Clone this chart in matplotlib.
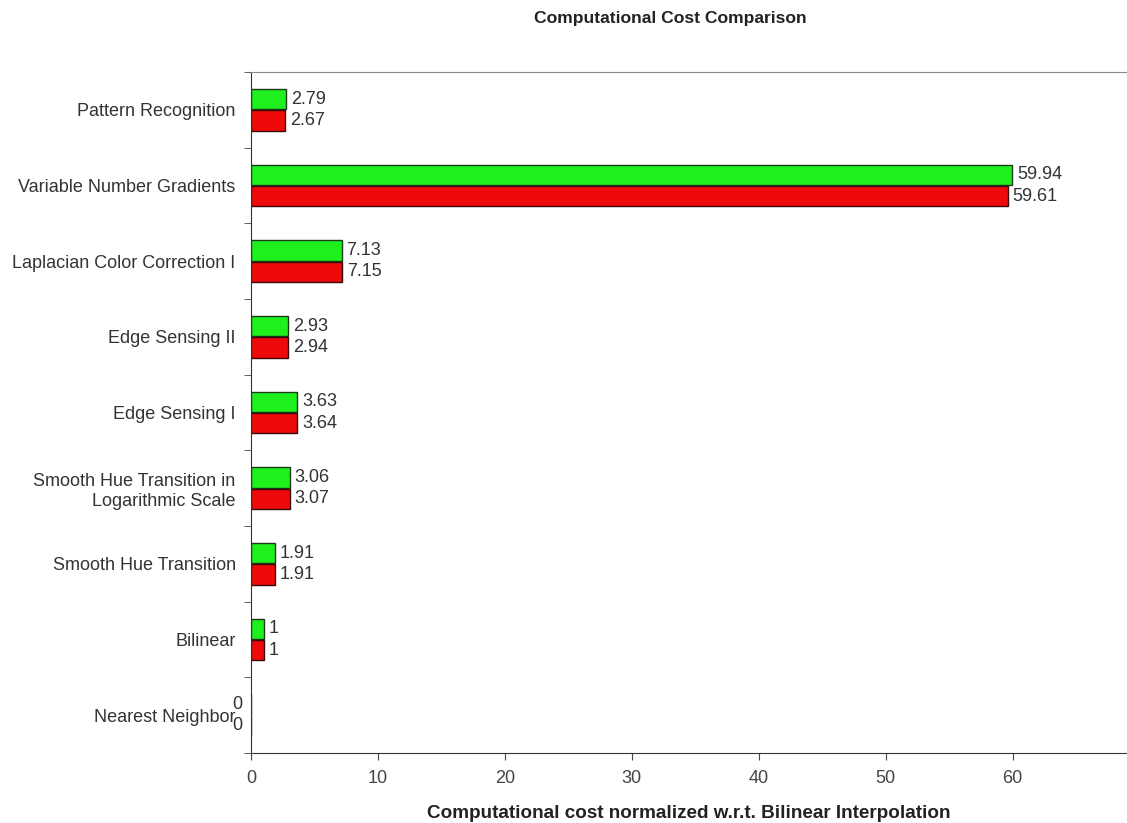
import numpy as np
import matplotlib.pyplot as plt

plt.rcParams['font.family'] = ['Liberation Sans', 'DejaVu Sans']

methods = [
    "Pattern Recognition",
    "Variable Number Gradients",
    "Laplacian Color Correction I",
    "Edge Sensing II",
    "Edge Sensing I",
    "Smooth Hue Transition in\nLogarithmic Scale",
    "Smooth Hue Transition",
    "Bilinear",
    "Nearest Neighbor",
]
cost_green = [2.79, 59.94, 7.13, 2.93, 3.63, 3.06, 1.91, 1, 0]
cost_red = [2.67, 59.61, 7.15, 2.94, 3.64, 3.07, 1.91, 1, 0]

W, H = 1127, 823
fig = plt.figure(figsize=(W / 100, H / 100), dpi=100)
ax = fig.add_axes([251 / W, 70 / H, (W - 251) / W, 681 / H])

y = np.arange(len(methods))
bh = 0.27
off = 0.14
ax.barh(y - off, cost_green, height=bh, color="#1ef01e", edgecolor="#1a3a1a", linewidth=1)
ax.barh(y + off, cost_red, height=bh, color="#ee0a0a", edgecolor="#3a0a0a", linewidth=1)

def label(v, yy):
    txt = f"{v:g}"
    if v == 0:
        ax.annotate(txt, (v, yy), xytext=(-6, 0), textcoords="offset points",
                    ha="right", va="center", fontsize=13, color="#333333")
    else:
        ax.annotate(txt, (v, yy), xytext=(3.5, 0), textcoords="offset points",
                    ha="left", va="center", fontsize=13, color="#333333")

for i in range(len(methods)):
    label(cost_green[i], y[i] - off)
    label(cost_red[i], y[i] + off)

ax.set_ylim(len(methods) - 0.5, -0.5)
ax.set_xlim(0, 69)
ax.set_yticks(y)
ax.set_yticklabels(methods, fontsize=13, color="#333333", ha="right")
ax.set_yticks(np.arange(len(methods) + 1) - 0.5, minor=True)
ax.tick_params(axis="y", which="major", length=0, pad=11)
ax.tick_params(axis="y", which="minor", length=5, direction="out", color="#444444")
ax.set_xticks([0, 10, 20, 30, 40, 50, 60])
ax.tick_params(axis="x", length=5, direction="out", color="#444444",
               labelsize=13, labelcolor="#444444", pad=7)

ax.spines["right"].set_visible(False)
ax.spines["top"].set_color("#888888")
ax.spines["left"].set_color("#333333")
ax.spines["bottom"].set_color("#333333")

ax.set_xlabel("Computational cost normalized w.r.t. Bilinear Interpolation",
              fontsize=13.6, fontweight="bold", color="#222222", labelpad=13)
fig.text(670 / W, 1 - 18 / H, "Computational Cost Comparison", ha="center", va="center",
         fontsize=12.6, fontweight="bold", color="#222222")

fig.savefig("out.png", dpi=100)
